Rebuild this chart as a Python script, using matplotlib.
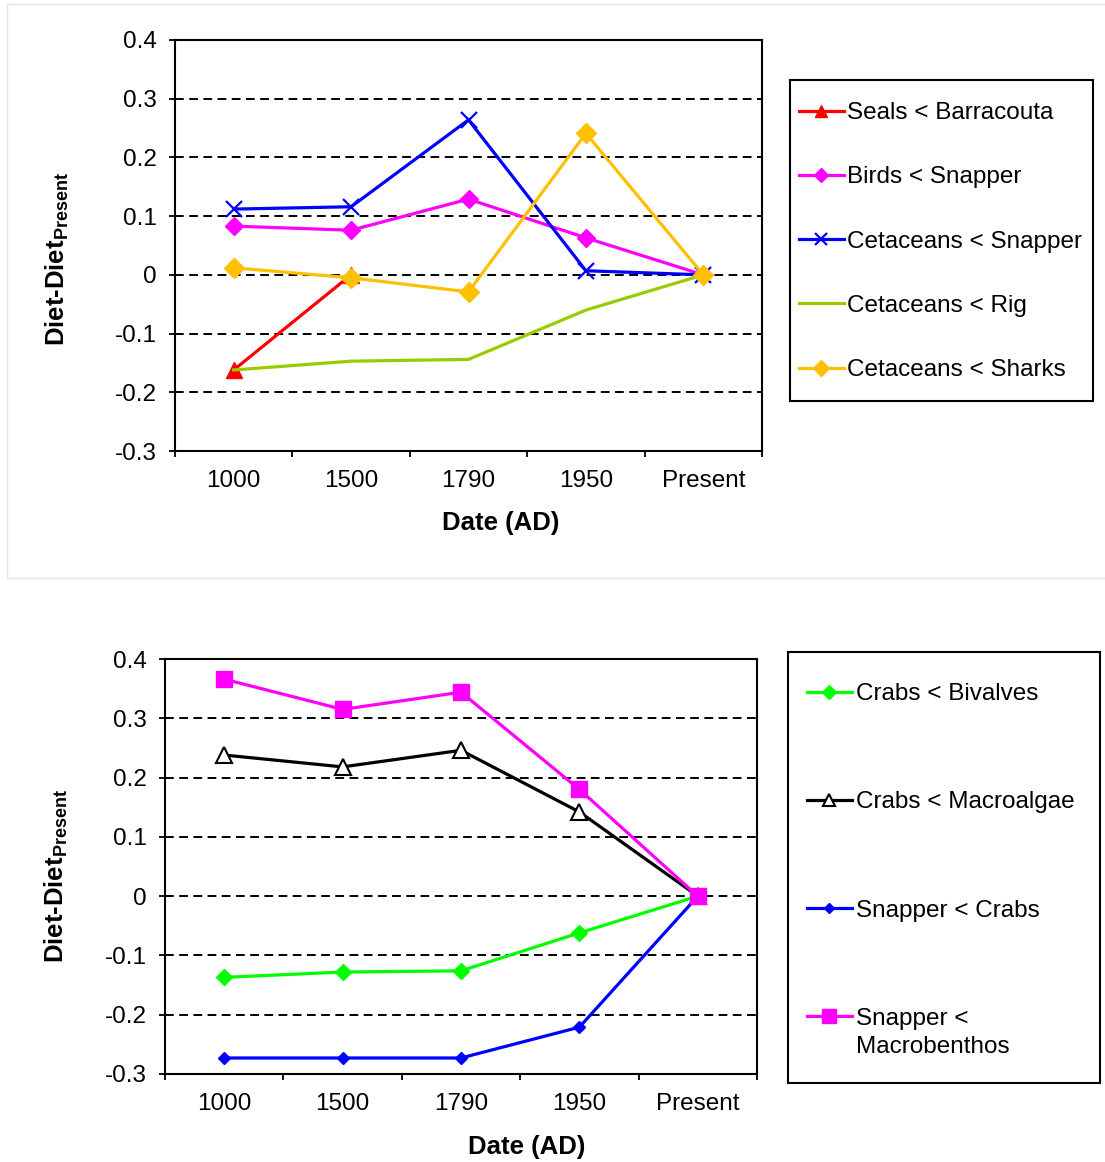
import matplotlib
matplotlib.use('Agg')
import matplotlib.pyplot as plt
from matplotlib.patches import Rectangle

plt.rcParams['font.family'] = ['Liberation Sans', 'DejaVu Sans']

dates = ['1000', '1500', '1790', '1950', 'Present']

# top panel
seals_barracouta = [-0.162, 0.0]
birds_snapper = [0.083, 0.076, 0.129, 0.063, 0.0]
cet_snapper = [0.112, 0.116, 0.264, 0.007, 0.0]
cet_rig = [-0.162, -0.147, -0.144, -0.060, 0.0]
cet_sharks = [0.012, -0.005, -0.029, 0.241, 0.0]

# bottom panel
crabs_bivalves = [-0.137, -0.128, -0.126, -0.062, 0.0]
crabs_macroalgae = [0.238, 0.218, 0.246, 0.142, 0.0]
snapper_crabs = [-0.273, -0.273, -0.273, -0.221, 0.0]
snapper_macrobenthos = [0.366, 0.315, 0.344, 0.180, 0.0]

yticks = [0.4, 0.3, 0.2, 0.1, 0, -0.1, -0.2, -0.3]
ytick_labels = ['0.4', '0.3', '0.2', '0.1', '0', '-0.1', '-0.2', '-0.3']

W, H = 1105, 1162
FS = 17.5
fig = plt.figure(figsize=(W / 100, H / 100), dpi=100)


def px_rect(x0, y0, x1, y1, color='black', lw=1.5, z=5):
    # rectangle given in pixel coords (top-left origin)
    r = Rectangle((x0 / W, 1 - y1 / H), (x1 - x0) / W, (y1 - y0) / H,
                  transform=fig.transFigure, fill=False, edgecolor=color,
                  lw=lw, zorder=z)
    fig.patches.append(r)


# faint frame round the top panel
px_rect(7, 4, 1400, 578, color='#e4e4e4', lw=1.0, z=0)


def style_axes(ax):
    x = range(len(dates))
    ax.set_xlim(-0.5, len(dates) - 0.5)
    ax.set_ylim(-0.3, 0.4)
    ax.set_yticks(yticks)
    ax.set_yticklabels(ytick_labels)
    ax.set_xticks([i - 0.5 for i in range(len(dates) + 1)])
    ax.set_xticklabels([])
    ax.set_xticks(list(x), minor=True)
    ax.set_xticklabels(dates, minor=True)
    ax.tick_params(axis='x', which='major', direction='out', length=4.5, width=1.3)
    ax.tick_params(axis='x', which='minor', length=0, pad=13.5, labelsize=FS)
    ax.tick_params(axis='y', direction='out', length=4, width=1.3, pad=9, labelsize=FS)
    for s in ax.spines.values():
        s.set_linewidth(1.5)
    for v in yticks[1:-1]:
        ax.axhline(v, color='black', lw=1.4, ls=(0, (4.5, 2.8)), zorder=1)
    ax.set_xlabel('Date (AD)', fontsize=18.5, fontweight='bold')
    ax.set_ylabel('Diet-Diet$_{\\mathregular{Present}}$', fontsize=18.5, fontweight='bold')


# top chart
ax1 = fig.add_axes([175 / W, 1 - 451 / H, 587 / W, 411 / H])
x = list(range(len(dates)))
ax1.plot(x[:2], seals_barracouta, color='#ff0000', lw=2.3, marker='^', ms=11,
         label='Seals < Barracouta', zorder=3)
ax1.plot(x, birds_snapper, color='#ff00ff', lw=2.3, marker='D', ms=9,
         label='Birds < Snapper', zorder=3)
ax1.plot(x, cet_snapper, color='#0000ff', lw=2.3, marker='x', ms=11, mew=1.6,
         label='Cetaceans < Snapper', zorder=3)
ax1.plot(x, cet_rig, color='#99cc00', lw=2.3,
         label='Cetaceans < Rig', zorder=3)
ax1.plot(x, cet_sharks, color='#ffc000', lw=2.3, marker='D', ms=10,
         label='Cetaceans < Sharks', zorder=3)
style_axes(ax1)
ax1.xaxis.set_label_coords(0.554, -0.147)
ax1.yaxis.set_label_coords(-0.178, 0.467)

leg1 = ax1.legend(loc='upper left', bbox_to_anchor=(799 / W, 1 - 102 / H),
                  bbox_transform=fig.transFigure, fontsize=FS,
                  frameon=False, handlelength=1.85, handletextpad=0.12,
                  labelspacing=1.74, borderpad=0, borderaxespad=0,
                  markerscale=0.8)
px_rect(790, 80, 1093, 401)

# bottom chart
ax2 = fig.add_axes([165 / W, 1 - 1074 / H, 592 / W, 415 / H])
ax2.plot(x, crabs_bivalves, color='#00ff00', lw=2.3, marker='D', ms=8,
         label='Crabs < Bivalves', zorder=3)
ax2.plot(x, crabs_macroalgae, color='black', lw=2.3, marker='^', ms=11,
         mfc='white', mec='black', mew=1.5, label='Crabs < Macroalgae', zorder=3)
ax2.plot(x, snapper_crabs, color='#0000ff', lw=2.3, marker='D', ms=6.5,
         label='Snapper < Crabs', zorder=3)
ax2.plot(x, snapper_macrobenthos, color='#ff00ff', lw=2.3, marker='s', ms=12,
         label='Snapper <', zorder=3)
style_axes(ax2)
ax2.xaxis.set_label_coords(0.611, -0.148)
ax2.yaxis.set_label_coords(-0.16, 0.476)

leg2 = ax2.legend(loc='upper left', bbox_to_anchor=(807 / W, 1 - 683 / H),
                  bbox_transform=fig.transFigure, fontsize=FS,
                  frameon=False, handlelength=1.85, handletextpad=0.17,
                  labelspacing=3.55, borderpad=0, borderaxespad=0,
                  markerscale=0.85)
px_rect(788, 652, 1100, 1083)

# second line of the last legend label, placed under the first line
fig.canvas.draw()
bb = leg2.get_texts()[-1].get_window_extent()
fig.text(bb.x0 / W, (bb.y0 - 28) / H, 'Macrobenthos', fontsize=FS,
         ha='left', va='bottom')

fig.savefig('out.png', dpi=100)
